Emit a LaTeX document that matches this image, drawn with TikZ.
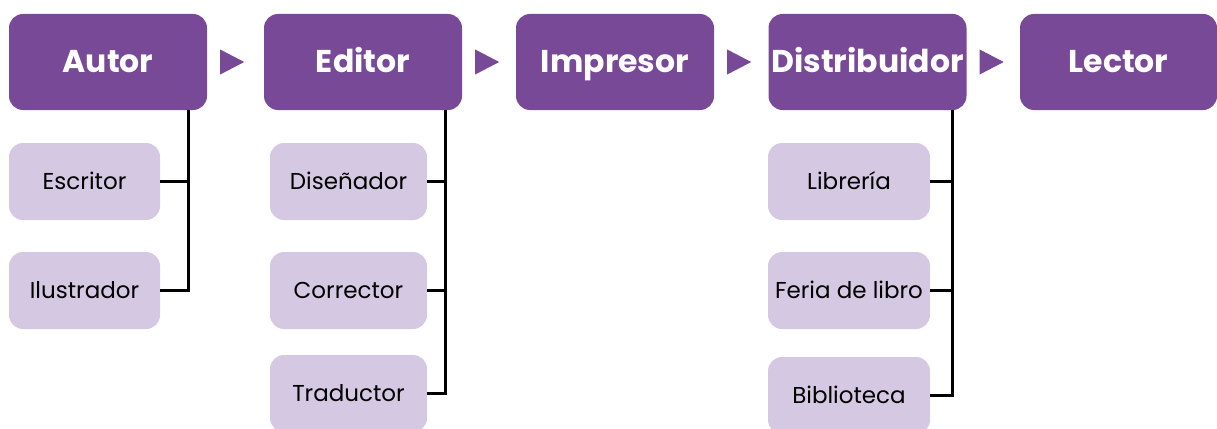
\documentclass[tikz,border=0pt]{standalone}
\usepackage{fontspec}
\setmainfont{Poppins}
\usetikzlibrary{calc}
\definecolor{mainpurple}{HTML}{784996}
\definecolor{lightpurple}{HTML}{D5C8E3}
\begin{document}
\begin{tikzpicture}[x=1pt,y=1pt,
  mainbox/.style={fill=mainpurple, rounded corners=14pt, minimum width=198pt, minimum height=96pt, inner sep=0pt, text height=22pt, text depth=0pt, text=white, font=\fontsize{31.5}{31.5}\selectfont\bfseries},
  subbox/.style={fill=lightpurple, rounded corners=14pt, minimum height=77pt, inner sep=0pt, text height=16pt, text depth=0pt, text=black, font=\fontsize{23}{23}\selectfont},
  link/.style={draw=black, line width=2.6pt},
  tri/.style={fill=mainpurple}
]
\useasboundingbox (0,0) rectangle (1217,-428);
% main boxes
\node[mainbox] (autor) at (108,-62) {Autor};
\node[mainbox] (editor) at (363,-62) {Editor};
\node[mainbox] (impresor) at (615,-62) {Impresor};
\node[mainbox] (distrib) at (867.5,-62) {Distribuidor};
\node[mainbox, minimum width=197pt] (lector) at (1118.5,-62) {Lector};
% arrows
\foreach \a in {autor,editor,impresor,distrib}{
  \fill[tri] ($(\a.east)+(13,12.5)$) -- ($(\a.east)+(37,0)$) -- ($(\a.east)+(13,-12.5)$) -- cycle;
}
% sub boxes
\node[subbox, minimum width=151pt] (escritor) at (84.5,-181.5) {Escritor};
\node[subbox, minimum width=151pt] (ilustrador) at (84.5,-290.5) {Ilustrador};
\node[subbox, minimum width=157pt] (disenador) at (348.5,-181.5) {Diseñador};
\node[subbox, minimum width=157pt] (corrector) at (348.5,-290.5) {Corrector};
\node[subbox, minimum width=157pt] (traductor) at (348.5,-393.5) {Traductor};
\node[subbox, minimum width=162pt] (libreria) at (849,-181.5) {Librería};
\node[subbox, minimum width=162pt] (feria) at (849,-290.5) {Feria de libro};
\node[subbox, minimum width=162pt] (biblio) at (849,-395.5) {Biblioteca};
% connectors
\coordinate (av) at ($(autor.south east)+(-19,0)$);
\coordinate (ev) at ($(editor.south east)+(-17,0)$);
\coordinate (dv) at ($(distrib.south east)+(-14,0)$);
\draw[link] (av) |- (ilustrador.east);
\draw[link] (escritor.east) -- (escritor.east -| av);
\draw[link] (ev) |- (traductor.east);
\draw[link] (disenador.east) -- (disenador.east -| ev);
\draw[link] (corrector.east) -- (corrector.east -| ev);
\draw[link] (dv) |- (biblio.east);
\draw[link] (libreria.east) -- (libreria.east -| dv);
\draw[link] (feria.east) -- (feria.east -| dv);
\end{tikzpicture}
\end{document}
